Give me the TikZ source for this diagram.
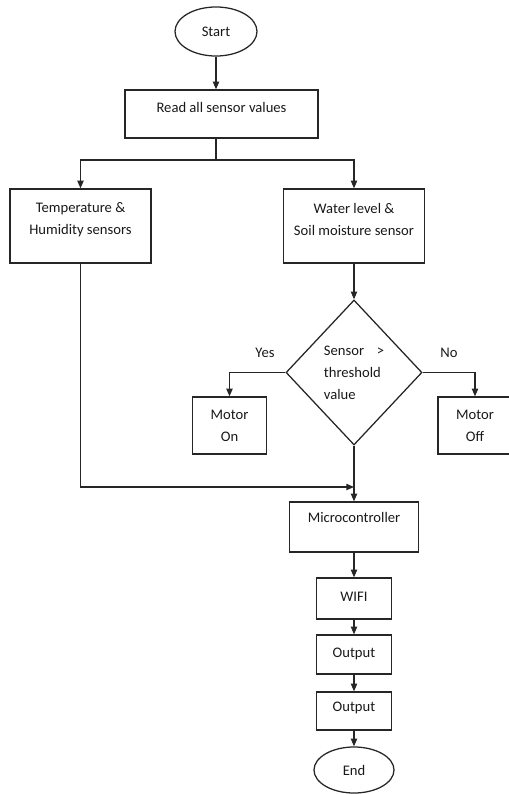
\documentclass[tikz,border=0pt]{standalone}
\usepackage{fontspec}
\setmainfont{Carlito}
\usetikzlibrary{arrows.meta,shapes.geometric}

\begin{document}
\begin{tikzpicture}[x=0.025cm, y=-0.025cm, line width=0.9pt,
    >={Triangle[length=5.5pt,width=4.5pt]},
    every node/.style={font=\fontsize{10.4}{15.6}\selectfont, text=black!90},
    block/.style={draw=black!85, rectangle, align=center, inner sep=0pt},
    terminal/.style={draw=black!85, ellipse, inner sep=0pt},
    decision/.style={draw=black!85, diamond, align=left, inner sep=0pt}]
    \useasboundingbox (0,0) rectangle (508,794);
    % upper part
    \node[terminal, minimum width=2.05cm, minimum height=1.225cm] (start) at (216,31.5) {Start};
    \node[block, minimum width=4.825cm, minimum height=1.2cm, text height=7pt, text depth=9.8pt] (read) at (221.5,114) {Read all sensor values};
    \coordinate (split) at (216,160);
    \node[block, minimum width=3.525cm, minimum height=1.85cm, text depth=10pt] (temp) at (80.5,226) {Temperature \&\\Humidity sensors};
    \node[block, minimum width=3.525cm, minimum height=1.85cm, text depth=10pt] (water) at (354,226) {Water level \&\\Soil moisture sensor};
    % decision
    \node[decision, minimum width=3.4cm, minimum height=3.625cm] (dec) at (354,372.5) {Sensor\hspace{9pt}>\\threshold\\value};
    \node (yes) at (265,353) {Yes};
    \node (no) at (449,353) {No};
    \node[block, minimum width=1.85cm, minimum height=1.425cm] (on) at (229.5,425.5) {Motor\\On};
    \node[block, minimum width=1.85cm, minimum height=1.425cm] (off) at (475,425.5) {Motor\\Off};
    % lower part
    \coordinate (join) at (354,487);
    \node[block, minimum width=3.225cm, minimum height=1.25cm, text height=7pt, text depth=12.7pt] (micro) at (354,527) {Microcontroller};
    \node[block, minimum width=1.875cm, minimum height=1.025cm, text height=7pt, text depth=3.4pt] (wifi) at (354,598.5) {WIFI};
    \node[block, minimum width=1.875cm, minimum height=0.975cm, text height=7pt, text depth=3.4pt] (out1) at (354,654.5) {Output};
    \node[block, minimum width=1.875cm, minimum height=0.95cm, text height=7pt, text depth=5.6pt] (out2) at (354,711) {Output};
    \node[terminal, minimum width=2cm, minimum height=1.15cm] (end) at (354,770) {End};
    % connectors
    \draw[black!85, ->] (start.south) -- (start.south |- read.north);
    \draw[black!85] (read.south -| split) -- (split);
    \draw[black!85, ->] (split) -| (temp.north);
    \draw[black!85, ->] (split) -| (water.north);
    \draw[black!85, ->] (water.south) -- (dec.north);
    \draw[black!85, ->] (dec.west) -| (on.north);
    \draw[black!85, ->] (dec.east) -| (off.north);
    \draw[black!85, ->] (temp.south) |- (join);
    \draw[black!85, ->] (dec.south) -- (micro.north);
    \draw[black!85, ->] (micro.south) -- (wifi.north);
    \draw[black!85, ->] (wifi.south) -- (out1.north);
    \draw[black!85, ->] (out1.south) -- (out2.north);
    \draw[black!85, ->] (out2.south) -- (end.north);
\end{tikzpicture}
\end{document}
